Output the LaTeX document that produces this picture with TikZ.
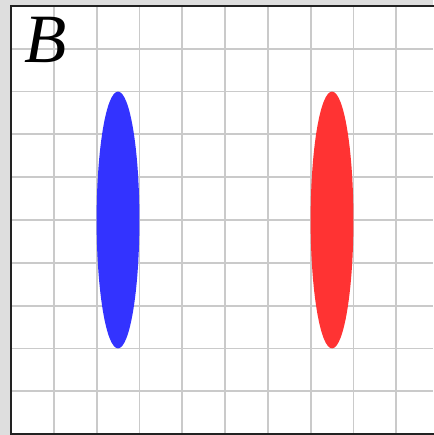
\documentclass[tikz,border=0pt]{standalone}
\usepackage{xcolor}
\usepackage{fontspec}
\newfontfamily\labelfont{Liberation Serif}
\definecolor{panelgrey}{HTML}{DEDEDE}
\definecolor{gridgrey}{HTML}{CACACA}
\definecolor{frameink}{HTML}{222222}
\definecolor{lobeblue}{HTML}{3333FF}
\definecolor{lobered}{HTML}{FF3333}

\begin{document}
\begin{tikzpicture}[
  gridline/.style={draw=gridgrey, line width=1.2pt},
  frameline/.style={draw=frameink, line width=1.4pt},
  lobe/.style={draw=none}]
% page and panel
\useasboundingbox (-0.257,-0.023) rectangle (9.86,10.14);
\fill[panelgrey] (-0.257,-0.023) rectangle (9.86,10.14);
\fill[white] (0,0) rectangle (9.86,10);
% grid
\foreach \k in {1,...,9} {
  \draw[gridline] (\k,0) -- (\k,10);
  \draw[gridline] (0,\k) -- (9.86,\k);
}
% the two ellipses
\fill[lobe, lobeblue] (2.5,5) ellipse [x radius=0.5, y radius=3];
\fill[lobe, lobered] (7.5,5) ellipse [x radius=0.5, y radius=3];
% frame, open at the right
\draw[frameline] (9.9,10) -- (0,10) -- (0,0) -- (9.9,0);
\node[font=\labelfont\itshape\fontsize{46}{46}\selectfont, inner sep=0pt] (panellabel) at (0.8,9.2) {B};
\end{tikzpicture}
\end{document}
